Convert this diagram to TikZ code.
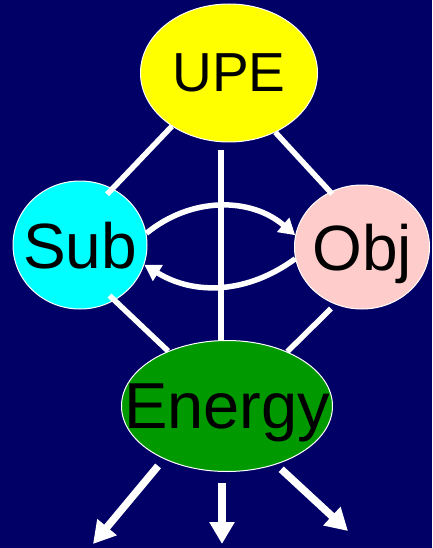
\documentclass[tikz,border=0pt]{standalone}
\usepackage{fontspec}
\setmainfont{Liberation Sans}
\usetikzlibrary{arrows.meta, shapes.geometric}
\definecolor{navy}{HTML}{000066}
\definecolor{sun}{HTML}{FFFF00}
\definecolor{sky}{HTML}{00FFFF}
\definecolor{blush}{HTML}{FFCCCC}
\definecolor{leaf}{HTML}{009900}

\begin{document}
\begin{tikzpicture}[
  x=1pt, y=1pt,
  bubble/.style={ellipse, draw=white, line width=1pt, inner sep=0pt},
  word/.style={font=\fontsize{#1}{#1}\selectfont, text=black, text depth=0pt, inner sep=0pt},
  link/.style={draw=white, line width=5.5pt},
  swap/.style={link, -{Triangle[length=16pt, width=18pt]}},
  outflow/.style={draw=white, line width=7.5pt, -{Triangle[length=22pt, width=24pt]}}
]
  \useasboundingbox (0,0) rectangle (432,-548);
  \fill[navy] (0,0) rectangle (432,-548);

  \node[bubble, fill=sun, minimum width=177pt, minimum height=138pt,
        label={[word=55]center:UPE}] (upe) at (229,-73) {};
  \node[bubble, fill=sky, minimum width=134pt, minimum height=128pt,
        label={[word=64]center:Sub}] (sub) at (80,-245) {};
  \node[bubble, fill=blush, minimum width=135pt, minimum height=124pt,
        label={[word=64]center:Obj}] (obj) at (362,-247) {};
  \node[bubble, fill=leaf, minimum width=211pt, minimum height=131pt,
        label={[word=65]center:Energy}] (energy) at (227,-406) {};

  \coordinate (sinkL) at (93,-544);
  \coordinate (sinkM) at (222,-544);
  \coordinate (sinkR) at (348,-531);

  % links
  \draw[link, shorten >=-8pt] (upe.-137) -- (sub.60);
  \draw[link, shorten >=-3pt] (upe.-52) -- (obj.120);
  \draw[link, shorten <=8pt] ([xshift=-8pt]upe.south) -- ([xshift=-6pt]energy.north);
  \draw[link, shorten <=-7pt] (sub.-58) -- (energy.137);
  \draw[link, shorten <=6pt] (obj.-115) -- (energy.42);

  % exchange
  \draw[swap] (sub.10) to[bend left=40] (obj.170);
  \draw[swap] (obj.190) to[bend left=34] (sub.-17);

  % output
  \draw[outflow, shorten <=9pt] (energy.-140) -- (sinkL);
  \draw[outflow, shorten <=11pt] ([xshift=-5pt]energy.south) -- (sinkM);
  \draw[outflow, shorten <=7pt] (energy.-50) -- (sinkR);
\end{tikzpicture}
\end{document}
